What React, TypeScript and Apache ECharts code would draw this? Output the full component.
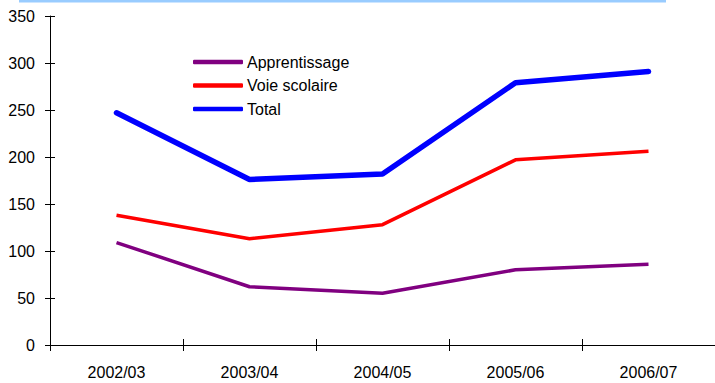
import React, { useEffect, useRef } from "react";
import * as echarts from "echarts";

const categories = ["2002/03", "2003/04", "2004/05", "2005/06", "2006/07"];
const apprentissage = [109, 62, 55, 80, 86];
const voieScolaire = [138, 113, 128, 197, 206];
const total = [247, 176, 182, 279, 291];
const yTicks = { min: 0, max: 350, interval: 50 };

export default function App() {
  const ref = useRef<HTMLDivElement>(null);
  useEffect(() => {
    if (!ref.current) return;
    const chart = echarts.init(ref.current, null, { renderer: "svg" });
    const font = "Liberation Sans, Arial, sans-serif";
    const grid = { left: 50, top: 16, width: 668, height: 329 };
    chart.setOption({
      animation: false,
      backgroundColor: "#ffffff",
      textStyle: { fontFamily: font },
      grid: [grid],
      graphic: [
        {
          type: "rect",
          shape: { x: 19, y: 0, width: 647, height: 2.5 },
          style: { fill: "#99CCFF" },
        },
      ],
      legend: {
        left: 193,
        top: 54,
        padding: 0,
        orient: "vertical",
        itemWidth: 50,
        itemHeight: 4.5,
        itemGap: 7.5,
        icon: "roundRect",
        textStyle: { fontFamily: font, fontSize: 16, color: "#000", padding: [0, 0, 0, -1] },
        data: ["Apprentissage", "Voie scolaire", "Total"],
      },
      xAxis: [
        {
          type: "category",
          data: categories,
          boundaryGap: true,
          axisLine: { lineStyle: { color: "#000", width: 1 } },
          axisTick: { show: true, length: 6, lineStyle: { color: "#000" } },
          axisLabel: { color: "#000", fontSize: 16, margin: 19, fontFamily: font },
          splitLine: { show: false },
        },
        {
          type: "category",
          data: categories,
          position: "bottom",
          boundaryGap: true,
          axisLine: { show: false },
          axisTick: { show: true, inside: true, length: 6, lineStyle: { color: "#000" } },
          axisLabel: { show: false },
          splitLine: { show: false },
        },
      ],
      yAxis: [
        {
          type: "value",
          ...yTicks,
          axisLine: { show: true, lineStyle: { color: "#000", width: 1 } },
          axisTick: { show: true, length: 5, lineStyle: { color: "#000" } },
          axisLabel: { color: "#000", fontSize: 16, margin: 15, fontFamily: font },
          splitLine: { show: false },
        },
        {
          type: "value",
          ...yTicks,
          position: "left",
          axisLine: { show: false },
          axisTick: { show: true, inside: true, length: 5, lineStyle: { color: "#000" } },
          axisLabel: { show: false },
          splitLine: { show: false },
        },
      ],
      series: [
        {
          name: "Apprentissage",
          type: "line",
          data: apprentissage,
          symbol: "none",
          color: "#800080",
          lineStyle: { color: "#800080", width: 3.5 },
        },
        {
          name: "Voie scolaire",
          type: "line",
          data: voieScolaire,
          symbol: "none",
          color: "#FF0000",
          lineStyle: { color: "#FF0000", width: 3.5 },
        },
        {
          name: "Total",
          type: "line",
          data: total,
          symbol: "none",
          color: "#0000FF",
          lineStyle: { color: "#0000FF", width: 5.5, cap: "round" },
        },
      ],
    });
    return () => chart.dispose();
  }, []);
  return (
    <div
      ref={ref}
      style={{ position: "fixed", left: 0, top: 0, width: 715, height: 383 }}
    />
  );
}
